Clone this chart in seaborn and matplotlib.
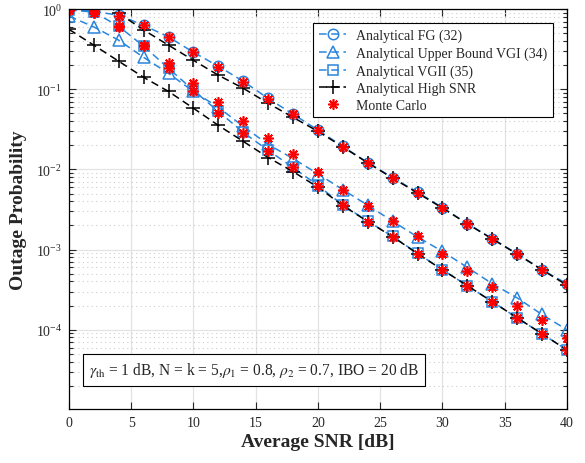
import matplotlib
matplotlib.use("Agg")
import matplotlib.pyplot as plt
import matplotlib.ticker as mticker
import pandas as pd
import seaborn as sns

snr_db = list(range(0, 42, 2))

fg_32 = [1.0, 0.94, 0.84, 0.63, 0.45, 0.29, 0.194, 0.126, 0.077, 0.049, 0.031,
         0.0194, 0.0122, 0.0079, 0.0052, 0.00335, 0.00211, 0.00137, 0.00089, 0.00056, 0.000376]
vgi_34 = [0.82, 0.60, 0.41, 0.25, 0.158, 0.094, 0.0596, 0.0345, 0.0205, 0.0137, 0.0088,
          0.0056, 0.00358, 0.00226, 0.00144, 0.00095, 0.0006, 0.000376, 0.00025, 0.000155, 0.0001]
vgii_35 = [0.98, 0.92, 0.61, 0.345, 0.183, 0.097, 0.053, 0.029, 0.0173, 0.0106, 0.0063,
           0.0036, 0.00226, 0.00146, 0.0009, 0.00056, 0.000355, 0.000224, 0.000141, 0.000089, 0.000056]
high_snr_fg = [2.3, 1.45, 0.89, 0.55, 0.355, 0.23, 0.15, 0.103, 0.067, 0.0447, 0.0299,
               0.0191, 0.0121, 0.0078, 0.0051, 0.0033, 0.0021, 0.00136, 0.00088, 0.00056, 0.00036]
high_snr_vg = [0.56, 0.355, 0.224, 0.141, 0.094, 0.058, 0.0355, 0.0224, 0.0141, 0.0094, 0.006,
               0.00355, 0.00224, 0.00145, 0.00089, 0.00056, 0.000355, 0.000224, 0.000141, 0.000089, 0.000056]
mc_fg = [1.0, 0.95, 0.82, 0.64, 0.45, 0.29, 0.19, 0.125, 0.076, 0.049, 0.031,
         0.0193, 0.0121, 0.0078, 0.0051, 0.0033, 0.0021, 0.00135, 0.00088, 0.00055, 0.00037]
mc_vgi = [0.97, 0.89, 0.6, 0.355, 0.211, 0.119, 0.069, 0.040, 0.0244, 0.0154, 0.0094,
          0.0056, 0.00355, 0.00226, 0.00148, 0.00089, 0.00054, 0.00034, 0.0002, 0.000131, 0.000079]
mc_vgii = [0.97, 0.90, 0.61, 0.35, 0.183, 0.094, 0.050, 0.0282, 0.0168, 0.0106, 0.0063,
           0.0036, 0.00224, 0.00145, 0.00089, 0.00056, 0.000355, 0.000224, 0.000141, 0.000089, 0.000056]

df = pd.DataFrame({"snr": snr_db, "fg": fg_32, "vgi": vgi_34, "vgii": vgii_35,
                   "hs_fg": high_snr_fg, "hs_vg": high_snr_vg,
                   "mc_fg": mc_fg, "mc_vgi": mc_vgi, "mc_vgii": mc_vgii})

sns.set_style("ticks")
plt.rcParams["font.family"] = ["Liberation Serif", "DejaVu Serif"]
plt.rcParams["mathtext.fontset"] = "stix"

blue = "#2a85dc"
dash = (0, (5, 3))

fig = plt.figure(figsize=(5.85, 4.64), dpi=100)
ax = fig.add_axes([0.118, 0.116, 0.851, 0.862])

common = dict(ax=ax, linewidth=1.1, linestyle=dash, markerfacecolor="none", markeredgewidth=1.1)
sns.lineplot(data=df, x="snr", y="fg", color=blue, marker="o", markersize=7.5,
             markeredgecolor=blue, label="Analytical FG (32)", **common)
sns.lineplot(data=df, x="snr", y="vgi", color=blue, marker="^", markersize=8.5,
             markeredgecolor=blue, label="Analytical Upper Bound VGI (34)", **common)
sns.lineplot(data=df, x="snr", y="vgii", color=blue, marker="s", markersize=7,
             markeredgecolor=blue, label="Analytical VGII (35)", **common)
sns.lineplot(data=df, x="snr", y="hs_fg", color="black", marker="+", markersize=9.5,
             markeredgecolor="black", label="Analytical High SNR", **common)
sns.lineplot(data=df, x="snr", y="hs_vg", color="black", marker="+", markersize=9.5,
             markeredgecolor="black", label="_nolegend_", **common)

star = (8, 2, 0)
for i, col in enumerate(["mc_fg", "mc_vgi", "mc_vgii"]):
    sns.lineplot(data=df, x="snr", y=col, ax=ax, color="red", linestyle="none",
                 marker=star, markersize=7.5, markeredgecolor="red", markeredgewidth=1.2,
                 label="Monte Carlo" if i == 0 else "_nolegend_")

ax.set_yscale("log")
ax.set_xlim(0, 40)
ax.set_ylim(1.02e-5, 1)
ax.set_xticks(range(0, 45, 5))
ax.set_yticks([1e-4, 1e-3, 1e-2, 1e-1, 1])
ax.yaxis.set_major_formatter(mticker.LogFormatterMathtext())
ax.yaxis.set_minor_locator(mticker.LogLocator(base=10, subs=range(2, 10), numticks=20))
ax.yaxis.set_minor_formatter(mticker.NullFormatter())

ax.grid(True, which="major", color="#e3e3e3", linewidth=0.9, linestyle="-")
ax.grid(True, which="minor", axis="y", color="#cccccc", linewidth=0.8, linestyle=(0, (1, 3)))
ax.set_axisbelow(True)

ax.tick_params(which="both", direction="in", top=True, right=True, labelsize=10, width=0.8)
ax.tick_params(which="major", length=5, pad=5)
ax.tick_params(which="minor", length=3)
for s in ax.spines.values():
    s.set_linewidth(0.9)
    s.set_color("black")

ax.set_xlabel("Average SNR [dB]", fontsize=14, fontweight="bold", labelpad=3)
ax.set_ylabel("Outage Probability", fontsize=14, fontweight="bold", labelpad=6)

leg = ax.legend(loc="upper right", bbox_to_anchor=(0.972, 0.965), borderaxespad=0,
                fontsize=10, fancybox=False, framealpha=1, edgecolor="black",
                handlelength=2.0, labelspacing=0.3, borderpad=0.4, handletextpad=0.7)
leg.get_frame().set_linewidth(0.8)

ax.text(0.04, 0.098,
        r"$\gamma_{\rm th}$ = 1 dB, N = k = 5,$\rho_1$ = 0.8, $\rho_2$ = 0.7, IBO = 20 dB",
        transform=ax.transAxes, ha="left", va="center", fontsize=11.2,
        bbox=dict(boxstyle="square,pad=0.4", facecolor="white", edgecolor="black", linewidth=0.8))

fig.savefig("out.png", dpi=100)
